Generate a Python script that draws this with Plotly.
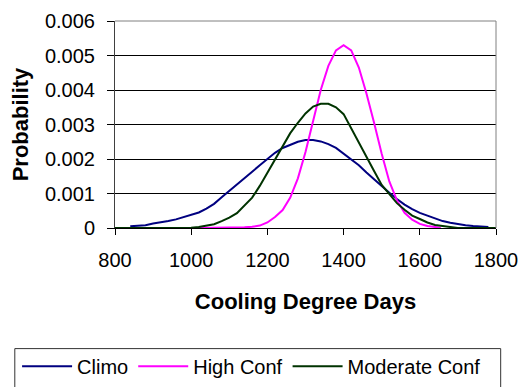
import plotly.graph_objects as go

# Cooling Degree Days grids
climo_x = [840, 860, 880, 900, 920, 940, 960, 980, 1000, 1020, 1040, 1060, 1080, 1100, 1120,
           1140, 1160, 1180, 1200, 1220, 1240, 1260, 1280, 1300, 1320, 1340, 1360, 1380, 1400,
           1420, 1440, 1460, 1480, 1500, 1520, 1540, 1560, 1580, 1600, 1620, 1640, 1660, 1680,
           1700, 1720, 1740, 1760, 1780]
climo_p = [0.00005, 0.00006, 0.00008, 0.00013, 0.00016, 0.00020, 0.00025, 0.00031, 0.00038,
           0.00045, 0.00056, 0.00070, 0.00089, 0.00107, 0.00125, 0.00144, 0.00163, 0.00182,
           0.00200, 0.00218, 0.00232, 0.00242, 0.00250, 0.00255, 0.00255, 0.00251, 0.00243,
           0.00232, 0.00215, 0.00198, 0.00182, 0.00161, 0.00141, 0.00122, 0.00102, 0.00084,
           0.00068, 0.00055, 0.00044, 0.00036, 0.00028, 0.00020, 0.00015, 0.00011, 0.00008,
           0.00006, 0.00004, 0.00003]

high_x = [1020, 1040, 1060, 1080, 1100, 1120, 1140, 1160, 1180, 1200, 1220, 1240, 1260, 1280,
          1300, 1320, 1340, 1360, 1380, 1400, 1420, 1440, 1460, 1480, 1500, 1520, 1540, 1560,
          1580, 1600, 1620, 1640, 1655]
high_p = [0.0, 0.0, 0.0, 0.0, 0.000005, 0.00001, 0.00002, 0.000035, 0.00007, 0.00016, 0.00032,
          0.00052, 0.00088, 0.00144, 0.00220, 0.00310, 0.00400, 0.00470, 0.00515, 0.00530,
          0.00515, 0.00465, 0.00390, 0.00305, 0.00215, 0.00135, 0.00080, 0.00044, 0.00024,
          0.00012, 0.00006, 0.00003, 0.0]

mod_x = [800, 820, 840, 860, 880, 900, 920, 940, 960, 980, 1000, 1020, 1040, 1060, 1080, 1100,
         1120, 1140, 1160, 1180, 1200, 1220, 1240, 1260, 1280, 1300, 1320, 1340, 1360, 1380,
         1400, 1420, 1440, 1460, 1480, 1500, 1520, 1540, 1560, 1580, 1600, 1620, 1640, 1660,
         1680, 1700, 1720, 1740, 1760, 1780, 1800]
mod_p = [0.0, 0.0, 0.0, 0.0, 0.0, 0.0, 0.0, 0.0, 0.0, 0.0, 0.00001, 0.00003, 0.00006, 0.00011,
         0.00020, 0.00030, 0.00043, 0.00066, 0.00088, 0.00122, 0.00160, 0.00200, 0.00240,
         0.00275, 0.00305, 0.00332, 0.00352, 0.00360, 0.00360, 0.00350, 0.00330, 0.00288,
         0.00245, 0.00205, 0.00165, 0.00125, 0.00098, 0.00072, 0.00053, 0.00036, 0.00026,
         0.00016, 0.00009, 0.00005, 0.00003, 0.0, 0.0, 0.0, 0.0, 0.0, 0.0]

series_names = ["Climo", "High Conf", "Moderate Conf"]
y_ticks = [0, 0.001, 0.002, 0.003, 0.004, 0.005, 0.006]
y_tick_labels = ["0", "0.001", "0.002", "0.003", "0.004", "0.005", "0.006"]
x_ticks = [800, 1000, 1200, 1400, 1600, 1800]

FONT = "Arial, 'Liberation Sans', sans-serif"

fig = go.Figure()
for name, xs, ys, col in [
    (series_names[0], climo_x, climo_p, "#000080"),
    (series_names[1], high_x, high_p, "#FF00FF"),
    (series_names[2], mod_x, mod_p, "#003300"),
]:
    fig.add_trace(go.Scatter(x=xs, y=ys, name=name, mode="lines",
                             line=dict(color=col, width=2), cliponaxis=False))

fig.update_layout(
    width=521, height=387,
    margin=dict(l=115, r=25, t=21, b=159, autoexpand=False),
    paper_bgcolor="white", plot_bgcolor="white",
    font=dict(family=FONT, size=20, color="black"),
    showlegend=True,
    legend=dict(orientation="h", x=-0.257, xanchor="left", y=-0.668, yanchor="middle",
                font=dict(size=20), bgcolor="rgba(0,0,0,0)", borderwidth=0,
                itemwidth=50, tracegroupgap=0),
    xaxis=dict(range=[800, 1800], tickvals=x_ticks, ticks="outside", ticklen=6,
               tickcolor="black", showline=True, linecolor="black", linewidth=1,
               showgrid=False, zeroline=False, ticklabelstandoff=8, automargin=False,
               title=dict(text="<b>Cooling Degree Days</b>", font=dict(size=22), standoff=23)),
    yaxis=dict(range=[0, 0.006], tickvals=y_ticks, ticktext=y_tick_labels, ticks="outside",
               ticklen=7, tickcolor="black", showline=True, linecolor="#404040", linewidth=1,
               showgrid=True, gridcolor="black", gridwidth=1, zeroline=False,
               ticklabelstandoff=8, automargin=False,
               title=dict(text="<b>Probability</b>", font=dict(size=22), standoff=10)),
    shapes=[
        dict(type="line", xref="paper", yref="paper", x0=0, x1=1, y0=1, y1=1,
             line=dict(color="#808080", width=1), layer="above"),
        dict(type="line", xref="paper", yref="paper", x0=1, x1=1, y0=0, y1=1,
             line=dict(color="#808080", width=1), layer="above"),
        dict(type="rect", xref="paper", yref="paper", x0=-0.263, x1=1.0123, y0=-0.5826,
             y1=-0.85, line=dict(color="#333333", width=1), fillcolor="rgba(0,0,0,0)"),
    ],
)

fig.write_html("out.html")
